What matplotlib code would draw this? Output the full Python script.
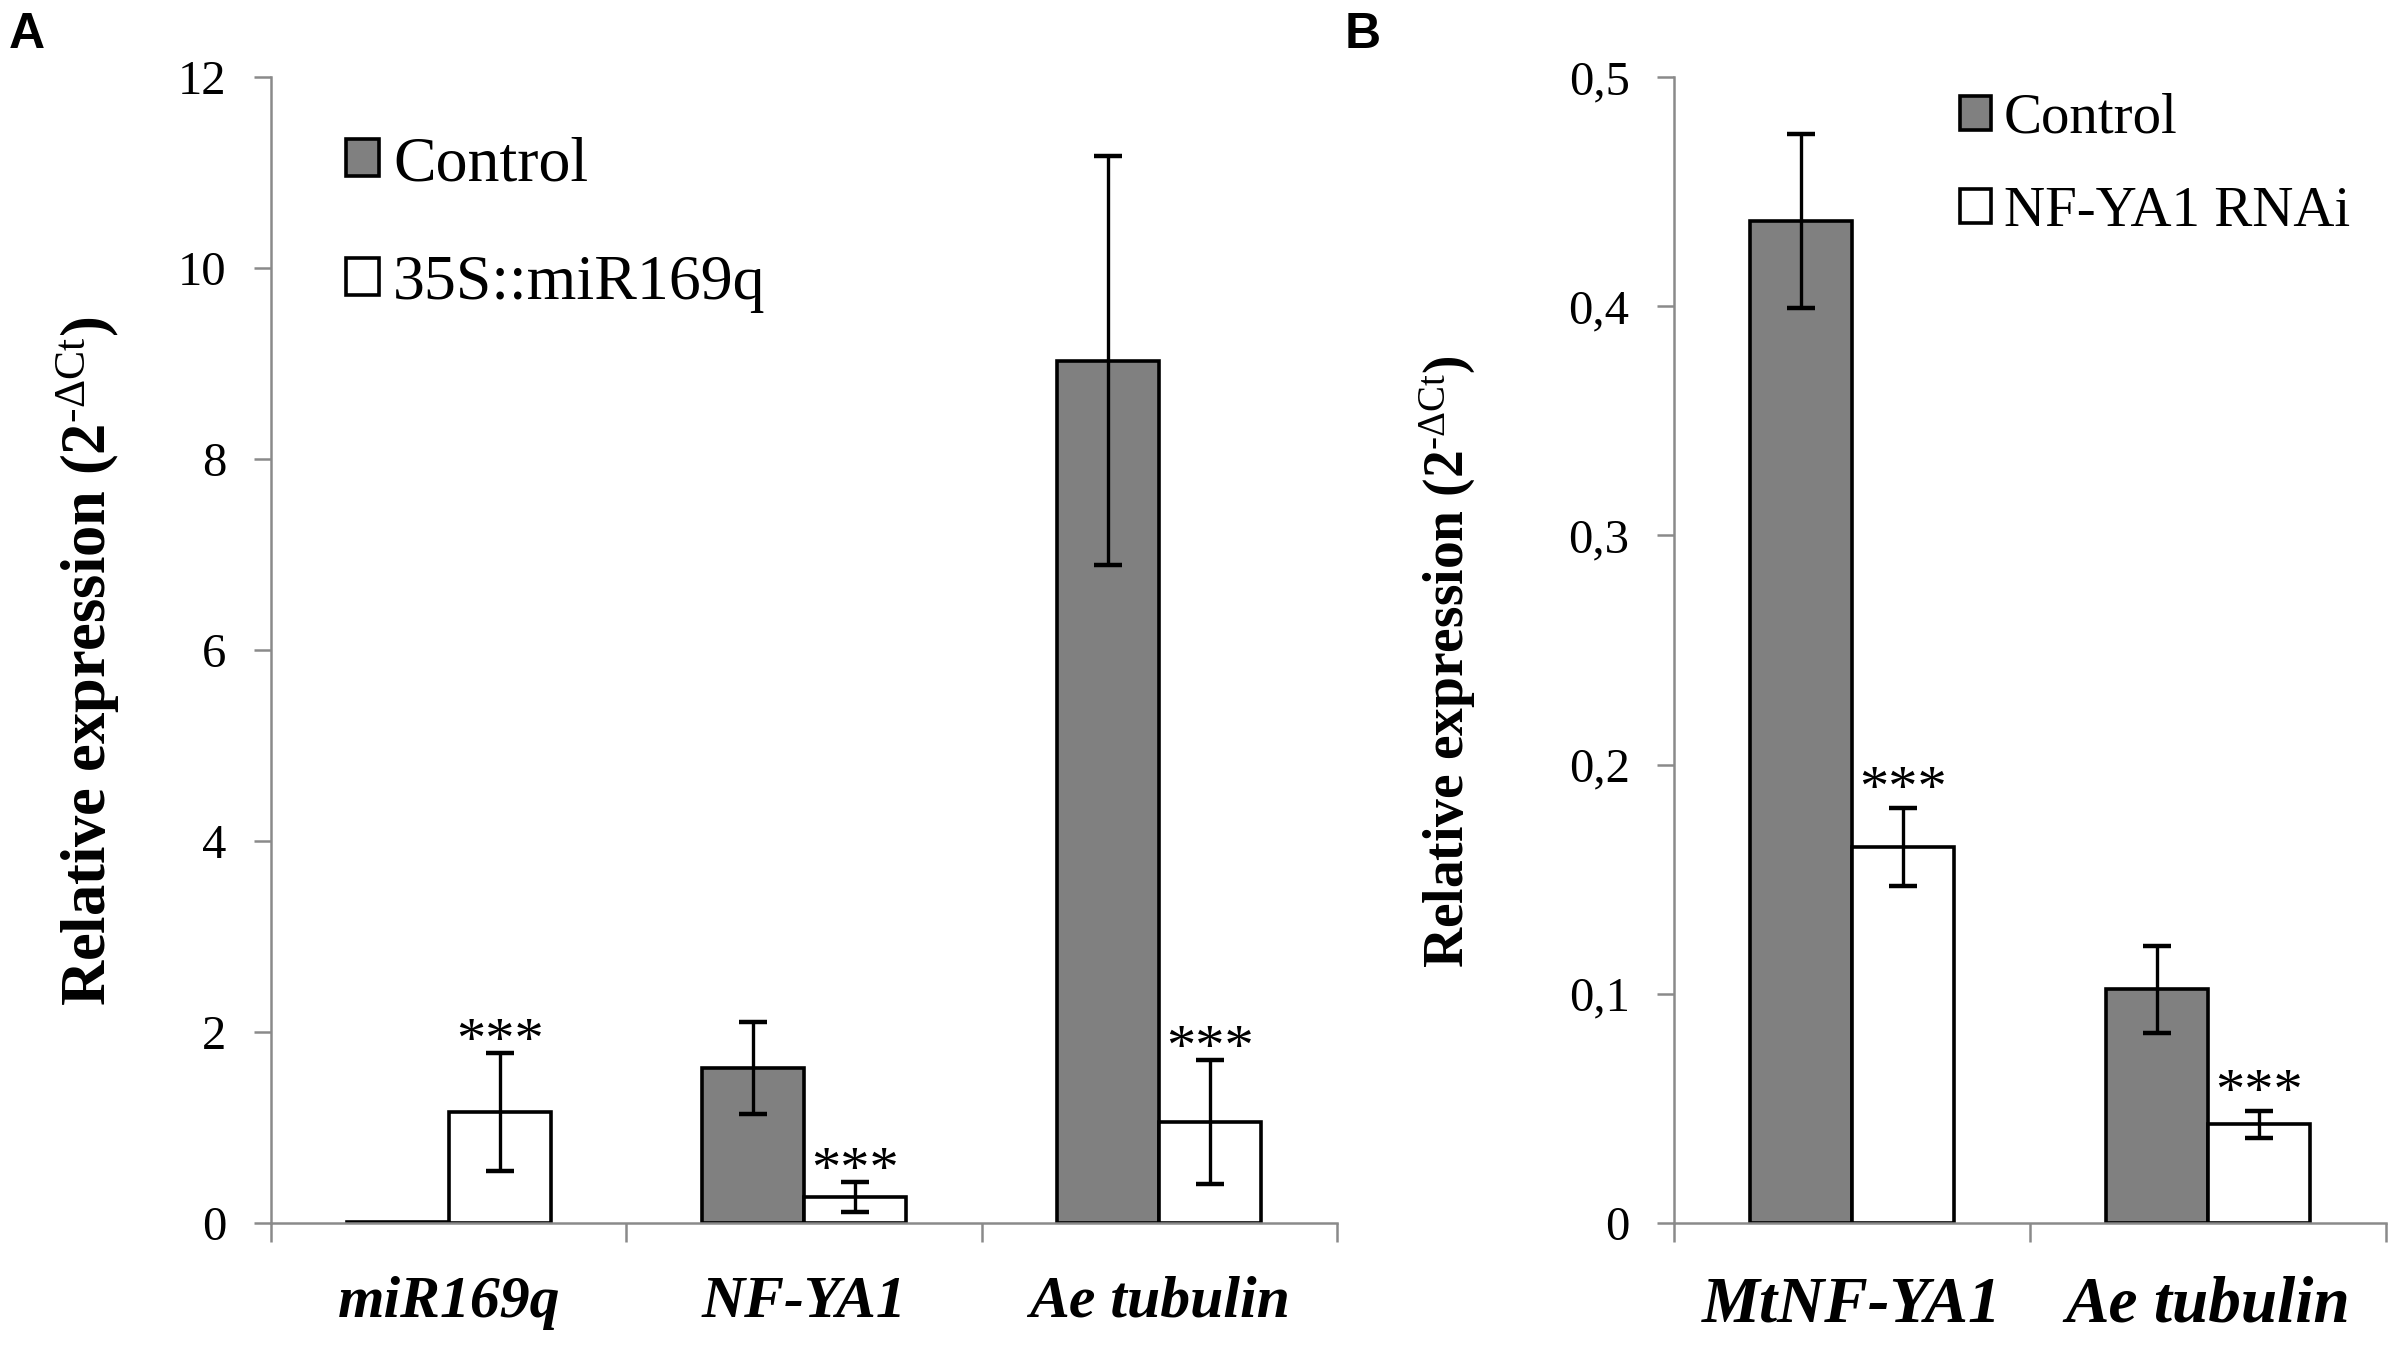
import numpy as np
import matplotlib.pyplot as plt
from matplotlib.ticker import FuncFormatter

plt.rcParams['font.family'] = ['Liberation Serif', 'DejaVu Serif']
plt.rcParams['mathtext.fontset'] = 'custom'
plt.rcParams['mathtext.rm'] = 'Liberation Serif'
plt.rcParams['mathtext.it'] = 'Liberation Serif:italic'
plt.rcParams['mathtext.bf'] = 'Liberation Serif:bold'

# Panel A: hairy roots, control vs 35S::miR169q
genes_a = ['miR169q', 'NF-YA1', 'Ae tubulin']
control_a = [0.01, 1.62, 9.03]
control_a_err = [0.0, 0.48, 2.14]
mir_a = [1.16, 0.27, 1.06]
mir_a_err = [0.62, 0.16, 0.65]
stars_a = ['***', '***', '***']
legend_a = ['Control', '35S::miR169q']

# Panel B: control vs NF-YA1 RNAi
genes_b = ['MtNF-YA1', 'Ae tubulin']
control_b = [0.437, 0.102]
control_b_err = [0.038, 0.019]
rnai_b = [0.164, 0.043]
rnai_b_err = [0.017, 0.006]
stars_b = ['***', '***']
legend_b = ['Control', 'NF-YA1 RNAi']

GREY_BAR = '#808080'
AXIS_GREY = '#8a8a8a'
BAR_W = 0.287
YLABEL = r'Relative expression (2$^{\text{-ΔCt}}$)'


def draw_panel(ax, genes, ctrl, ctrl_err, trt, trt_err, stars, labels,
               xfont, star_font, star_dy):
    x = np.arange(len(genes))
    b1 = ax.bar(x - BAR_W / 2, ctrl, BAR_W, color=GREY_BAR, edgecolor='black',
                linewidth=1.3, label=labels[0], zorder=2)
    b2 = ax.bar(x + BAR_W / 2, trt, BAR_W, color='white', edgecolor='black',
                linewidth=1.3, label=labels[1], zorder=2)
    for xi, v, e in zip(x - BAR_W / 2, ctrl, ctrl_err):
        if e > 0:
            ax.errorbar(xi, v, yerr=e, color='black', elinewidth=1.2,
                        capsize=5, capthick=1.6, zorder=3)
    for xi, v, e, s in zip(x + BAR_W / 2, trt, trt_err, stars):
        if e > 0:
            ax.errorbar(xi, v, yerr=e, color='black', elinewidth=1.2,
                        capsize=5, capthick=1.6, zorder=3)
        ax.annotate(s, (xi, v + e), xytext=(0, star_dy), textcoords='offset points',
                    ha='center', va='baseline', fontsize=star_font)

    ax.set_xlim(-0.5, len(genes) - 0.5)
    ax.set_xticks(x)
    ax.set_xticklabels(genes, fontsize=xfont, fontweight='bold', fontstyle='italic')
    ax.set_xticks(np.arange(len(genes) + 1) - 0.5, minor=True)
    ax.tick_params(axis='x', which='major', length=0, pad=19)
    ax.tick_params(axis='x', which='minor', length=7, width=0.9,
                   color=AXIS_GREY, direction='out')
    ax.tick_params(axis='y', length=6, width=0.9, color=AXIS_GREY,
                   pad=10, labelsize=17.5)
    for side in ['top', 'right']:
        ax.spines[side].set_visible(False)
    for side in ['left', 'bottom']:
        ax.spines[side].set_color(AXIS_GREY)
        ax.spines[side].set_linewidth(0.9)
    return b1, b2


fig = plt.figure(figsize=(12, 6.73), dpi=200)
ax_a = fig.add_axes([0.1129, 0.0914, 0.4442, 0.8514])
ax_b = fig.add_axes([0.6975, 0.0914, 0.2967, 0.8514])

draw_panel(ax_a, genes_a, control_a, control_a_err, mir_a, mir_a_err,
           stars_a, legend_a, xfont=21.5, star_font=21, star_dy=-1.5)
ax_a.set_ylim(0, 12)
ax_a.set_yticks(np.arange(0, 13, 2))
ax_a.set_ylabel(YLABEL, fontsize=22.5, fontweight='bold')
ax_a.yaxis.set_label_coords(-0.140, 0.49)
ax_a.legend(loc='center left', bbox_to_anchor=(0.0704, 0.871), frameon=False,
            fontsize=23, handlelength=0.52, handleheight=0.52,
            handletextpad=0.22, labelspacing=0.95, borderpad=0, borderaxespad=0)

draw_panel(ax_b, genes_b, control_b, control_b_err, rnai_b, rnai_b_err,
           stars_b, legend_b, xfont=23.5, star_font=21, star_dy=1)
ax_b.set_ylim(0, 0.5)
ax_b.set_yticks(np.arange(0, 0.51, 0.1))
ax_b.yaxis.set_major_formatter(
    FuncFormatter(lambda v, p: '0' if abs(v) < 1e-9 else f'{v:.1f}'.replace('.', ',')))
ax_b.set_ylabel(YLABEL, fontsize=20, fontweight='bold')
ax_b.yaxis.set_label_coords(-0.275, 0.49)
ax_b.legend(loc='center left', bbox_to_anchor=(0.4017, 0.923), frameon=False,
            fontsize=20.5, handlelength=0.54, handleheight=0.54,
            handletextpad=0.23, labelspacing=0.72, borderpad=0, borderaxespad=0)

fig.text(9 / 2400, 1 - 12 / 1346, 'A', family='Liberation Sans', fontweight='bold',
         fontsize=18, ha='left', va='top')
fig.text(1345 / 2400, 1 - 12 / 1346, 'B', family='Liberation Sans', fontweight='bold',
         fontsize=18, ha='left', va='top')

fig.savefig('out.png', dpi=200)
